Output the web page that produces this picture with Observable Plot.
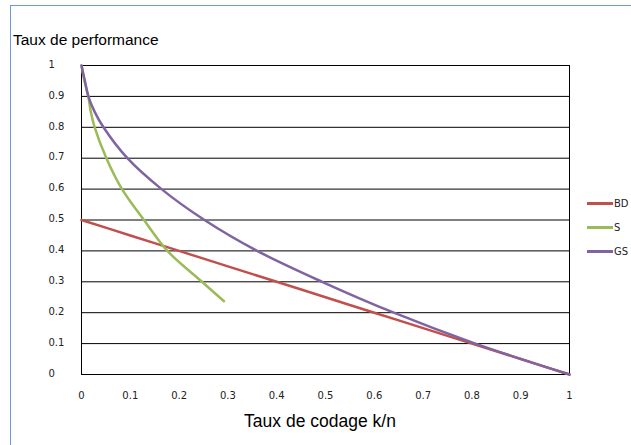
<!DOCTYPE html>
<html><head><meta charset="utf-8">
<script src="https://cdn.jsdelivr.net/npm/d3@7"></script>
<script src="https://cdn.jsdelivr.net/npm/@observablehq/plot@0.6"></script>
<style>
body{margin:0;background:#fff;overflow:hidden;}
#wrap{position:relative;width:631px;height:445px;overflow:hidden;background:#fff;}
#border{position:absolute;left:10px;top:5px;width:700px;height:600px;border:1px solid #6a9bd8;box-sizing:border-box;}
#chart{position:absolute;left:0;top:0;}
.t{position:absolute;font-family:"Liberation Sans",Arial,sans-serif;color:#000;white-space:nowrap;}
#ytitle{left:13px;top:32px;font-size:15.5px;line-height:15px;}
#xtitle{left:0;width:640px;text-align:center;top:413px;font-size:17.5px;line-height:17.5px;}
.leg{position:absolute;left:587px;height:22px;font-family:"DejaVu Sans",sans-serif;font-size:10px;color:#222;display:flex;align-items:center;}
.leg span.sw{display:inline-block;width:26px;height:3px;margin-right:1px;}
</style></head>
<body>
<div id="wrap">
  <div id="border"></div>
  <div id="chart"></div>
  <div class="t" id="ytitle">Taux de performance</div>
  <div class="t" id="xtitle">Taux de codage k/n</div>
  <div id="legend"></div>
</div>
<script>
// Tick values and labels
const xTicks = [0, 0.1, 0.2, 0.3, 0.4, 0.5, 0.6, 0.7, 0.8, 0.9, 1];
const xTickLabels = ["0", "0.1", "0.2", "0.3", "0.4", "0.5", "0.6", "0.7", "0.8", "0.9", "1"];
const yTicks = [0, 0.1, 0.2, 0.3, 0.4, 0.5, 0.6, 0.7, 0.8, 0.9, 1];
const yTickLabels = ["0", "0.1", "0.2", "0.3", "0.4", "0.5", "0.6", "0.7", "0.8", "0.9", "1"];

// Series
const seriesNames = ["BD", "S", "GS"];
const seriesColors = ["#c0504d", "#9bbb59", "#8064a2"];

const bdX = [0, 0.1, 0.2, 0.3, 0.4, 0.5, 0.6, 0.7, 0.8, 0.9, 1];
const bdY = [0.5, 0.45, 0.4, 0.35, 0.3, 0.25, 0.2, 0.15, 0.1, 0.05, 0];

const sX = [0, 0.006, 0.014, 0.019, 0.027, 0.051, 0.083, 0.128, 0.176, 0.247, 0.292];
const sY = [1, 0.95, 0.9, 0.85, 0.8, 0.7, 0.6, 0.5, 0.4, 0.3, 0.237];

const gsX = [0, 0.007, 0.014, 0.027, 0.045, 0.094, 0.164, 0.252, 0.36, 0.493, 0.64, 0.807, 1];
const gsY = [1, 0.95, 0.9, 0.85, 0.8, 0.7, 0.6, 0.5, 0.4, 0.3, 0.2, 0.1, 0];

const toRows = (xs, ys) => xs.map((x, i) => ({x, y: ys[i]}));
const seriesData = [toRows(bdX, bdY), toRows(sX, sY), toRows(gsX, gsY)];

const plot = Plot.plot({
  width: 631,
  height: 445,
  marginLeft: 81,
  marginRight: 62,
  marginTop: 65,
  marginBottom: 71,
  x: {domain: [0, 1]},
  y: {domain: [0, 1]},
  style: {fontFamily: "'DejaVu Sans', sans-serif", fontSize: "10px", color: "#222", background: "transparent"},
  marks: [
    Plot.ruleY(yTicks, {stroke: "#000", strokeWidth: 1}),
    Plot.ruleX([0, 1], {stroke: "#000", strokeWidth: 1}),
    Plot.axisY(yTicks, {tickSize: 0, tickPadding: 0, textAnchor: "start", dx: -33, dy: -1,
      tickFormat: d => yTickLabels[yTicks.indexOf(d)], label: null, fill: "#222"}),
    Plot.axisX(xTicks, {tickSize: 0, tickPadding: 17,
      tickFormat: d => xTickLabels[xTicks.indexOf(d)], label: null, fill: "#222"}),
    ...seriesData.map((data, i) => Plot.line(data, {x: "x", y: "y", stroke: seriesColors[i], strokeWidth: 2.5, curve: "catmull-rom"}))
  ]
});
document.getElementById("chart").appendChild(plot);

const legTops = [192, 216, 240];
const legend = document.getElementById("legend");
seriesNames.forEach((name, i) => {
  const d = document.createElement("div");
  d.className = "leg";
  d.style.top = legTops[i] + "px";
  d.innerHTML = `<span class="sw" style="background:${seriesColors[i]}"></span>${name}`;
  legend.appendChild(d);
});
</script>
</body></html>
